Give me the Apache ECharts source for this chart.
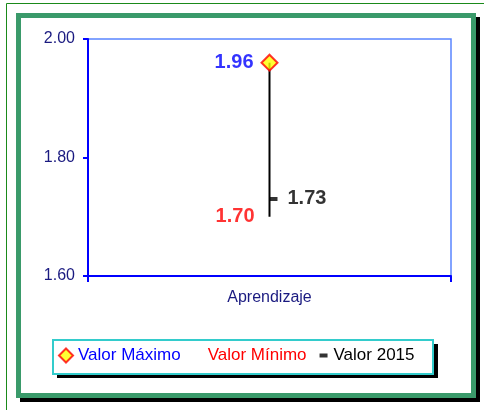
<!DOCTYPE html>
<html>
<head>
<meta charset="utf-8">
<script src="https://cdn.jsdelivr.net/npm/echarts@6/dist/echarts.min.js"></script>
<style>
html,body{margin:0;padding:0;background:#fff;}
#c{width:484px;height:410px;}
</style>
</head>
<body>
<div id="c"></div>
<script>
const categories = ['Aprendizaje'];
const maxValues = [1.96];
const minValues = [1.70];
const values2015 = [1.73];
const yMin = 1.6, yMax = 2.0, yInterval = 0.2;
const legendNames = ['Valor Máximo', 'Valor Mínimo', 'Valor 2015'];

const chart = echarts.init(document.getElementById('c'), null, {renderer: 'canvas'});
const FONT = 'Liberation Sans, Arial, sans-serif';

const rangeData = categories.map((c, i) => [i, maxValues[i], minValues[i]]);

const option = {
  backgroundColor: '#ffffff',
  animation: false,
  textStyle: {fontFamily: FONT},
  graphic: [
    {type: 'rect', z: -10, shape: {x: 6.5, y: 3.5, width: 500, height: 430}, style: {fill: '#ffffff', stroke: '#1a8a1a', lineWidth: 1}},
    {type: 'rect', z: -9, shape: {x: 20, y: 17, width: 460, height: 385}, style: {fill: '#000000'}},
    {type: 'rect', z: -8, shape: {x: 18.5, y: 15.5, width: 455, height: 380}, style: {fill: '#ffffff', stroke: '#3a9a6a', lineWidth: 5}},
    {type: 'rect', z: -7, shape: {x: 57, y: 344, width: 381, height: 34}, style: {fill: '#000000'}},
    {type: 'rect', z: -6, shape: {x: 53, y: 340, width: 380, height: 34}, style: {fill: '#ffffff', stroke: '#33cccc', lineWidth: 2}}
  ],
  grid: {left: 88, right: 33, top: 39, bottom: 134, show: true, borderColor: '#5a85ff', borderWidth: 1.5, backgroundColor: 'transparent'},
  legend: {
    left: 53, top: 342,
    itemWidth: 14, itemHeight: 14, itemGap: 8,
    textStyle: {fontFamily: FONT, fontSize: 17},
    data: [
      {name: legendNames[0], icon: 'diamond', itemStyle: {color: '#ffff00', borderColor: '#ff0000', borderWidth: 2}, textStyle: {color: '#0000ff'}},
      {name: legendNames[1], itemStyle: {opacity: 0}, textStyle: {color: '#ff0000'}},
      {name: legendNames[2], icon: 'path://M0,0M14,14M5,5h8v4h-8z', itemStyle: {color: '#000000'}, textStyle: {color: '#000000'}}
    ],
    selectedMode: false
  },
  xAxis: {
    type: 'category',
    data: categories,
    boundaryGap: true,
    axisLine: {lineStyle: {color: '#0000ff', width: 2}},
    axisTick: {show: true, length: 6, lineStyle: {color: '#0000ff', width: 2}},
    axisLabel: {color: '#1a1a80', fontSize: 16, margin: 14, fontFamily: FONT},
    splitLine: {show: false}
  },
  yAxis: {
    type: 'value',
    min: yMin, max: yMax, interval: yInterval,
    axisLine: {show: true, lineStyle: {color: '#0000ff', width: 2}},
    axisTick: {show: true, length: 5, lineStyle: {color: '#0000ff', width: 2}},
    axisLabel: {color: '#1a1a80', fontSize: 16, margin: 13, fontFamily: FONT, formatter: v => v.toFixed(2)},
    splitLine: {show: false}
  },
  series: [
    {
      type: 'custom',
      name: 'range',
      data: rangeData,
      encode: {x: 0, y: [1, 2]},
      z: 1,
      renderItem: function (params, api) {
        const top = api.coord([api.value(0), api.value(1)]);
        const bot = api.coord([api.value(0), api.value(2)]);
        return {type: 'line', shape: {x1: top[0], y1: top[1], x2: bot[0], y2: bot[1]}, style: {stroke: '#000000', lineWidth: 2}};
      }
    },
    {
      type: 'scatter',
      name: legendNames[0],
      data: maxValues,
      symbol: 'diamond',
      symbolSize: 16,
      z: 5,
      itemStyle: {color: '#ffff00', borderColor: '#ff0000', borderWidth: 2},
      label: {show: true, position: 'left', distance: 7, color: '#0000ff', fontWeight: 'bold', fontSize: 20, fontFamily: FONT, formatter: p => p.value.toFixed(2)}
    },
    {
      type: 'scatter',
      name: legendNames[1],
      data: minValues,
      symbol: 'circle',
      symbolSize: 2,
      itemStyle: {color: 'rgba(0,0,0,0)'},
      z: 5,
      label: {show: true, position: 'left', distance: 14, color: '#ff0000', fontWeight: 'bold', fontSize: 20, fontFamily: FONT, formatter: p => p.value.toFixed(2)}
    },
    {
      type: 'scatter',
      name: legendNames[2],
      data: values2015,
      symbol: 'rect',
      symbolSize: [8, 4],
      symbolOffset: [4, 0],
      itemStyle: {color: '#000000'},
      z: 5,
      label: {show: true, position: 'right', distance: 10, color: '#000000', fontWeight: 'bold', fontSize: 20, fontFamily: FONT, formatter: p => p.value.toFixed(2)}
    }
  ]
};
chart.setOption(option);
</script>
</body>
</html>
